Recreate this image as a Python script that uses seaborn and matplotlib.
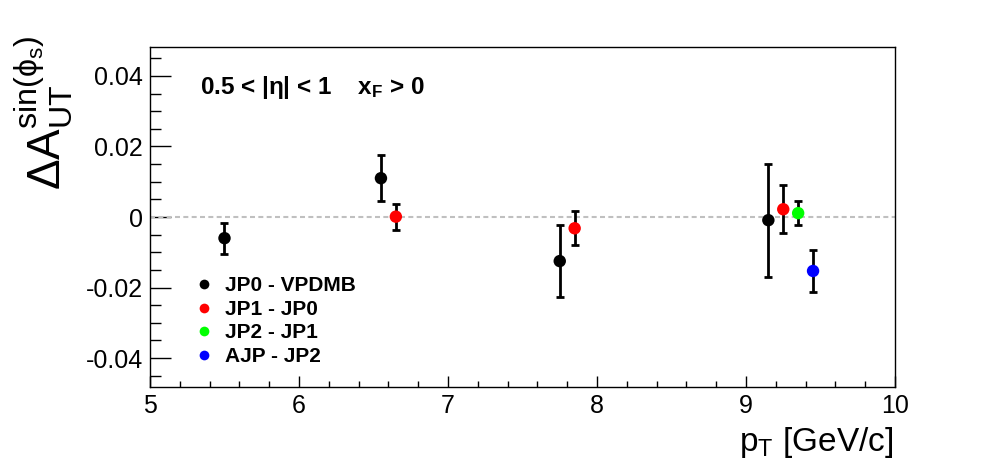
"""Delta A_UT sin(phi_S) vs pT for trigger-pair differences (ROOT-style look)."""

import matplotlib
matplotlib.use("Agg")
import matplotlib.pyplot as plt
from matplotlib.lines import Line2D
from matplotlib.ticker import MultipleLocator
import pandas as pd
import seaborn as sns

# trigger-pair differences, one small set per series
triggers = ["JP0 - VPDMB", "JP1 - JP0", "JP2 - JP1", "AJP - JP2"]
colors = ["#000000", "#ff0000", "#00ff00", "#0000ff"]

pt_jp0 = [5.50, 6.55, 7.75, 9.15]
asym_jp0 = [-0.0060, 0.0110, -0.0125, -0.0009]
err_jp0 = [0.0044, 0.0065, 0.0101, 0.0160]

pt_jp1 = [6.65, 7.85, 9.25]
asym_jp1 = [0.0001, -0.0032, 0.0022]
err_jp1 = [0.0037, 0.0048, 0.0068]

pt_jp2 = [9.35]
asym_jp2 = [0.0011]
err_jp2 = [0.0034]

pt_ajp = [9.45]
asym_ajp = [-0.0153]
err_ajp = [0.0059]

series = [(pt_jp0, asym_jp0, err_jp0), (pt_jp1, asym_jp1, err_jp1),
          (pt_jp2, asym_jp2, err_jp2), (pt_ajp, asym_ajp, err_ajp)]

rows = []
for name, (pts, vals, errs) in zip(triggers, series):
    for p, v, e in zip(pts, vals, errs):
        rows.append({"trigger": name, "pt": p, "asym": v, "err": e})
df = pd.DataFrame(rows)

sns.set_style("white")
plt.rcParams["font.family"] = ["Liberation Sans", "DejaVu Sans"]
plt.rcParams["text.color"] = "black"
plt.rcParams["mathtext.fontset"] = "custom"
plt.rcParams["mathtext.rm"] = "Liberation Sans"
plt.rcParams["mathtext.it"] = "Liberation Sans:italic"
plt.rcParams["mathtext.bf"] = "Liberation Sans:bold"

fig = plt.figure(figsize=(9.96, 4.72), dpi=100)
ax = fig.add_axes([0.1506, 0.1801, 0.748, 0.7203])

ax.axhline(0, color="#c0c0c0", lw=1.5, dashes=(2.4, 1.6), zorder=1)

ax.errorbar(df["pt"], df["asym"], yerr=df["err"], fmt="none", ecolor="black",
            elinewidth=2, capsize=3, capthick=2, zorder=2)
sns.scatterplot(data=df, x="pt", y="asym", hue="trigger", hue_order=triggers,
                palette=colors, s=80, linewidth=0, legend=False, zorder=3, ax=ax)

ax.set_xlim(5, 10)
ax.set_ylim(-0.0482, 0.0482)
ax.xaxis.set_major_locator(MultipleLocator(1))
ax.xaxis.set_minor_locator(MultipleLocator(0.2))
ax.set_yticks([-0.04, -0.02, 0, 0.02, 0.04])
ax.set_yticklabels(["-0.04", "-0.02", "0", "0.02", "0.04"])
ax.yaxis.set_minor_locator(MultipleLocator(0.005))
ax.tick_params(axis="both", which="both", direction="in", top=False, right=False,
               bottom=True, left=True, colors="black", labelsize=18)
ax.tick_params(axis="y", which="major", length=15, width=1, pad=5)
ax.tick_params(axis="y", which="minor", length=8, width=1)
ax.tick_params(axis="x", which="major", length=8, width=1, pad=5)
ax.tick_params(axis="x", which="minor", length=4, width=1)
for sp in ax.spines.values():
    sp.set_color("black")
    sp.set_linewidth(1)
ax.set_xlabel("")
ax.set_ylabel("")

fig.text(0.897, 0.100, r"p$_{\mathrm{T}}$ [GeV/c]", ha="right", va="top", fontsize=24)
fig.text(0.044, 0.925, r"$\mathrm{\Delta A}_{\mathrm{UT}}^{\mathrm{sin(\phi_{s})}}$",
         rotation=90, ha="center", va="top", fontsize=33)

ax.text(0.067, 0.88, r"0.5 < |η| < 1    $\mathbf{x}_{\mathbf{F}}$ > 0", transform=ax.transAxes,
        fontsize=17.5, fontweight="bold", ha="left", va="center")

handles = [Line2D([], [], ls="none", marker="o", ms=7, mec="none", mfc=c) for c in colors]
leg = ax.legend(handles, triggers, loc="upper left", bbox_to_anchor=(0.045, 0.35),
                frameon=False, prop={"weight": "bold", "size": 15},
                handletextpad=0.4, labelspacing=0.22, handlelength=1.2, borderaxespad=0)

fig.savefig("out.png", dpi=100)
